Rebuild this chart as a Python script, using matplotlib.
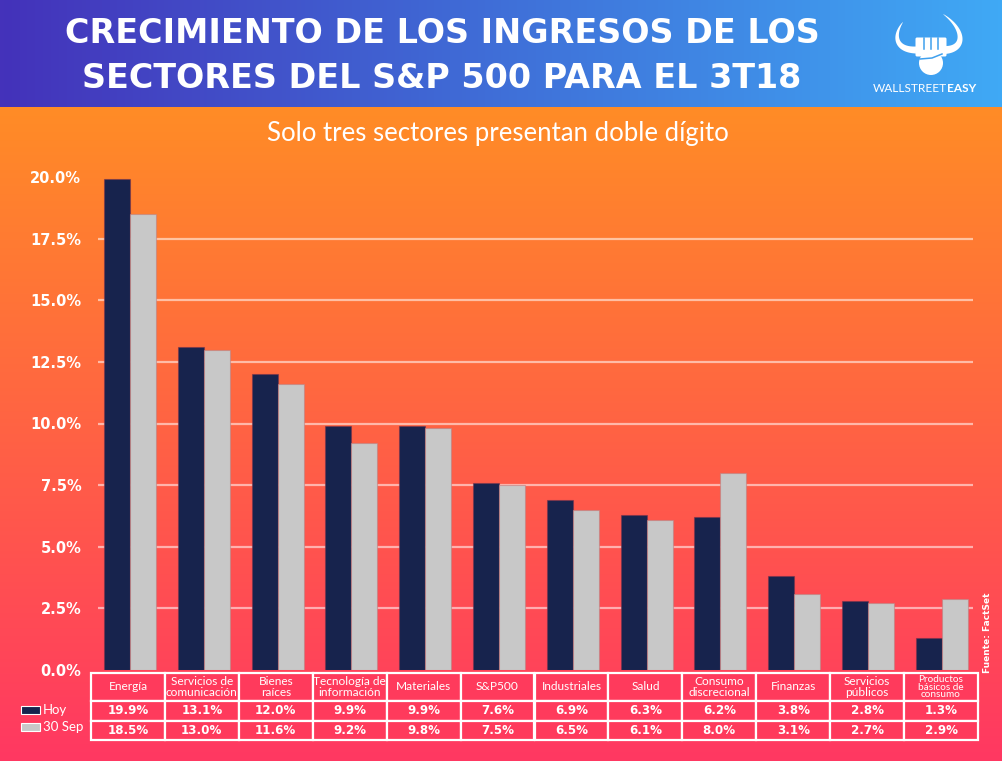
import numpy as np
import matplotlib
matplotlib.use("Agg")
import matplotlib.pyplot as plt
from matplotlib.patches import Rectangle, Circle, FancyBboxPatch, Polygon
from matplotlib.colors import LinearSegmentedColormap

# ---------------- data ----------------
categories = ["Energía", "Servicios de\ncomunicación", "Bienes\nraíces", "Tecnología de\ninformación",
              "Materiales", "S&P500", "Industriales", "Salud", "Consumo\ndiscrecional",
              "Finanzas", "Servicios\npúblicos", "Productos\nbásicos de\nconsumo"]
hoy = [19.9, 13.1, 12.0, 9.9, 9.9, 7.6, 6.9, 6.3, 6.2, 3.8, 2.8, 1.3]
sep30 = [18.5, 13.0, 11.6, 9.2, 9.8, 7.5, 6.5, 6.1, 8.0, 3.1, 2.7, 2.9]
series_names = ["Hoy", "30 Sep"]
yticks = [0, 2.5, 5, 7.5, 10, 12.5, 15, 17.5, 20]
title = "CRECIMIENTO DE LOS INGRESOS DE LOS\nSECTORES DEL S&P 500 PARA EL 3T18"
subtitle = "Solo tres sectores presentan doble dígito"

W, H = 1002, 761
fig = plt.figure(figsize=(W / 100, H / 100), dpi=100)

def fx(x): return x / W
def fy(y): return 1 - y / H

# ---------------- backgrounds ----------------
bg = fig.add_axes([0, 0, 1, 1], zorder=-10)
bg.set_xlim(0, W); bg.set_ylim(H, 0); bg.axis("off")
body_cmap = LinearSegmentedColormap.from_list("body", ["#ff8c26", "#ff6244", "#ff3862"])
grad_v = np.linspace(0, 1, 256).reshape(-1, 1)
bg.imshow(grad_v, cmap=body_cmap, extent=[0, W, H, 107], aspect="auto", zorder=0)
head_cmap = LinearSegmentedColormap.from_list("head", ["#4432ba", "#3f6fd8", "#3fa9f5"])
grad_h = np.linspace(0, 1, 256).reshape(1, -1)
bg.imshow(grad_h, cmap=head_cmap, extent=[0, W, 107, 0], aspect="auto", zorder=0)

# title / subtitle
fig.text(fx(442), fy(56), title, ha="center", va="center", color="white",
         fontsize=24, fontweight="bold", family="DejaVu Sans", linespacing=1.45)
fig.text(fx(498), fy(133), subtitle, ha="center", va="center", color="white",
         fontsize=18.5, family="Lato")

# ---------------- logo (drawn in pixel coords) ----------------
def horn(p, w0=7.0):
    p = np.array(p, dtype=float)
    t = np.linspace(0, 1, 60)[:, None]
    c = ((1 - t) ** 3) * p[0] + 3 * ((1 - t) ** 2) * t * p[1] + 3 * (1 - t) * t ** 2 * p[2] + t ** 3 * p[3]
    d = np.gradient(c, axis=0)
    n = np.stack([-d[:, 1], d[:, 0]], axis=1)
    n /= np.linalg.norm(n, axis=1)[:, None]
    wdt = w0 * (1 - t[:, 0]) ** 0.7 / 2
    a = c + n * wdt[:, None]
    b = c - n * wdt[:, None]
    bg.add_patch(Polygon(np.vstack([a, b[::-1]]), closed=True, fc="white", ec="none", zorder=5))

horn([(916, 50), (895, 50), (893, 35), (903, 22)], 7)
horn([(944, 50), (965, 50), (966, 30), (943, 14)], 8)
bg.add_patch(FancyBboxPatch((917, 39), 28, 16, boxstyle="round,pad=1.5", fc="white", ec="none", zorder=5))
bg.add_patch(Circle((931, 63), 12, fc="white", ec="none", zorder=5))
for xx in [924, 931, 938]:
    bg.plot([xx, xx], [38, 49], color="#3fa0ee", lw=1.1, zorder=6)
bg.plot([920, 932, 942], [59, 58, 54], color="#3fa0ee", lw=1.1, zorder=6)
bg.text(947, 88, "WALLSTREET", color="white", fontsize=8.6, family="Lato",
        ha="right", va="center", zorder=6)
bg.text(947, 88, "EASY", color="white", fontsize=8.6, family="Lato", fontweight="bold",
        ha="left", va="center", zorder=6)

# ---------------- main axes ----------------
left_px, right_px, top_px, bot_px = 98, 973, 177, 670
ax = fig.add_axes([fx(left_px), fy(bot_px), fx(right_px - left_px), (bot_px - top_px) / H])
ax.patch.set_alpha(0)
step = 73.8
xmin = -(130 - left_px) / step
xmax = (right_px - 130) / step
ax.set_xlim(xmin, xmax)
ax.set_ylim(0, 20)
x = np.arange(len(categories))
bw = 26 / step
ax.bar(x - bw / 2, hoy, bw, color="#17234d", edgecolor=(0.45, 0.2, 0.3, 0.6), lw=0.8, zorder=3)
ax.bar(x + bw / 2, sep30, bw, color="#c8c8c8", edgecolor=(0.75, 0.5, 0.5, 0.6), lw=0.8, zorder=3)
for v in yticks[1:-1]:
    ax.axhline(v, color="white", alpha=0.55, lw=1.6, zorder=1)
ax.set_yticks(yticks)
ax.set_yticklabels([f"{v:.1f}%" for v in yticks], color="white", fontsize=10.5,
                   fontweight="bold", family="DejaVu Sans")
ax.tick_params(axis="y", length=0, pad=12)
ax.set_xticks([])
for s in ax.spines.values():
    s.set_visible(False)

fig.text(fx(988), fy(633), "Fuente: FactSet", rotation=90, ha="center", va="center",
         color="white", fontsize=6.5, fontweight="bold")

# ---------------- table ----------------
ta = fig.add_axes([fx(91), fy(740), fx(978 - 91), (740 - 673) / H], zorder=4)
ta.set_xlim(-0.5, 11.5); ta.set_ylim(740, 673); ta.axis("off")
rows = [(673, 700.5), (700.5, 720.5), (720.5, 740)]
for i, cat in enumerate(categories):
    for (y0, y1) in rows:
        ta.add_patch(Rectangle((i - 0.5, y0), 1, y1 - y0, fc="#ff3a5c", ec="white", lw=1.6, clip_on=False))
    three = cat.count("\n") == 2
    ta.text(i, 687, cat, ha="center", va="center", color="white", fontsize=7.2 if three else 8.6,
            linespacing=0.85 if three else 0.95, family="Lato")
    ta.text(i, 710.5, f"{hoy[i]:.1f}%", ha="center", va="center", color="white",
            fontsize=8.6, fontweight="bold")
    ta.text(i, 730, f"{sep30[i]:.1f}%", ha="center", va="center", color="white",
            fontsize=8.6, fontweight="bold")

# legend
la = fig.add_axes([0, fy(740), fx(91), (740 - 700) / H], zorder=4)
la.set_xlim(0, 91); la.set_ylim(740, 700); la.axis("off")
la.add_patch(Rectangle((21, 706), 19, 7.5, fc="#17234d", ec="white", lw=0.8))
la.add_patch(Rectangle((21, 723), 19, 7.5, fc="#c8c8c8", ec="white", lw=0.8))
la.text(43, 710, series_names[0], color="white", fontsize=9.5, va="center", family="Lato")
la.text(43, 727, series_names[1], color="white", fontsize=9.5, va="center", family="Lato")

fig.savefig("out.png", dpi=100)
